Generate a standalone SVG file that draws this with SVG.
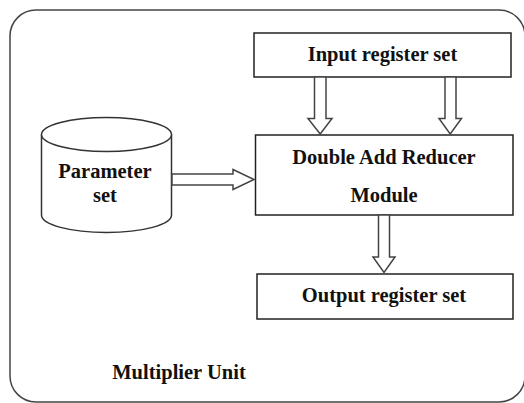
<svg xmlns="http://www.w3.org/2000/svg" width="524" height="403" viewBox="0 0 524 403">
<style>
.box{fill:#fff;stroke:#222;stroke-width:1.5}
.cyl{fill:#fff;stroke:#333;stroke-width:1.5}
.arr{fill:#fff;stroke:#444;stroke-width:1.5;stroke-linejoin:miter}
</style>
<rect x="0" y="0" width="524" height="403" fill="#fff"/>
<g font-family="Times New Roman, serif" font-weight="bold" font-size="20.5" fill="#111" text-anchor="middle">
<g id="multiplier-unit">
<rect x="10" y="10" width="515" height="392" rx="26" ry="26" fill="none" stroke="#444" stroke-width="1.5"/>
<text x="179" y="379">Multiplier Unit</text>
</g>
<g id="input-register-set">
<rect class="box" x="254" y="33" width="257" height="44"/>
<text x="382.5" y="61">Input register set</text>
</g>
<g id="double-add-reducer">
<rect class="box" x="255.5" y="135" width="257.5" height="80"/>
<text x="384" y="164">Double Add Reducer</text>
<text x="384" y="202">Module</text>
</g>
<g id="output-register-set">
<rect class="box" x="257" y="274" width="256" height="45"/>
<text x="384" y="302">Output register set</text>
</g>
<g id="parameter-set">
<path class="cyl" d="M41.5,134.5 L41.5,215 A65,17.5 0 0 0 171.5,215 L171.5,134.5"/>
<ellipse class="cyl" cx="106.5" cy="134.5" rx="65" ry="17"/>
<text x="105" y="178">Parameter</text>
<text x="105" y="202">set</text>
</g>
</g>
<g id="connectors">
<polygon class="arr" points="314.5,77 326,77 326,118.5 332,118.5 320.2,134 308,118.5 314.5,118.5"/>
<polygon class="arr" points="445,77 456,77 456,118.5 461.5,118.5 450.2,134 439,118.5 445,118.5"/>
<polygon class="arr" points="172,174 233,174 233,169.5 254,179.5 233,189.5 233,185 172,185"/>
<polygon class="arr" points="378.5,215 389.5,215 389.5,257 395,257 384,272.5 373,257 378.5,257"/>
</g>
</svg>
